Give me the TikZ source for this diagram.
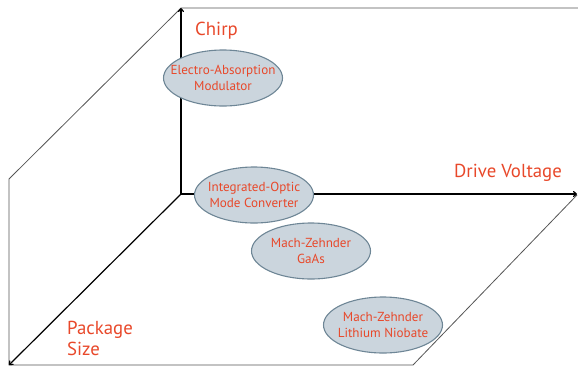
\documentclass[tikz,border=0pt]{standalone}
\usepackage{fontspec}
\setmainfont{PT Sans}
\usetikzlibrary{shapes.geometric,arrows.meta}
\definecolor{lbl}{HTML}{E8482A}
\definecolor{efill}{HTML}{CBD5DD}
\definecolor{edraw}{HTML}{6E8696}
\definecolor{boxc}{HTML}{555555}
\tikzset{
  techshape/.style={ellipse, draw=edraw, line width=1.1pt, fill=efill, minimum width=119pt, minimum height=56pt, inner sep=0pt},
  techtext/.style={inner sep=0pt, text=lbl, font=\fontsize{13.1}{16}\selectfont, align=center},
  axislabel/.style={text=lbl, font=\fontsize{18.8}{20}\selectfont, inner sep=0pt},
  axis/.style={black, line width=1.2pt, -{To[length=4pt,width=6pt]}},
  boxline/.style={boxc, line width=0.8pt}
}
\begin{document}
\begin{tikzpicture}[x=1pt,y=-1pt]
\useasboundingbox (0,0) rectangle (578,368);
\coordinate (O) at (181,194);
\coordinate (Top) at (181,8);
\coordinate (Right) at (577,194);
\coordinate (Front) at (9,365);
\coordinate (TR) at (578,8);
\coordinate (LM) at (9,179);
\coordinate (BR) at (413,365);
\coordinate (RD) at (577,195);
\draw[boxline] (TR) -- (Top) -- (LM) -- (Front) -- (BR) -- (RD);
\draw[axis] (O) -- (Top);
\draw[axis] (O) -- (Right);
\draw[axis] (O) -- (Front);
\node[axislabel, anchor=west] (chirp) at (195,31) {Chirp};
\node[axislabel] (drive) at (508,173) {Drive Voltage};
\node[axislabel, anchor=north west, align=left, font=\fontsize{18.8}{21}\selectfont] (pkg) at (67,321) {Package\\Size};
\node[techshape] (eam) at (223,78) {};
\node[techtext] (eamt) at (eam.center) {Electro-Absorption\\Modulator};
\node[techshape] (iomc) at (254,195) {};
\node[techtext] (iomct) at (iomc.center) {Integrated-Optic\\Mode Converter};
\node[techshape] (mzg) at (311,251) {};
\node[techtext] (mzgt) at (mzg.center) {Mach-Zehnder\\GaAs};
\node[techshape] (mzl) at (383,325) {};
\node[techtext] (mzlt) at (mzl.center) {Mach-Zehnder\\Lithium Niobate};
\end{tikzpicture}
\end{document}
